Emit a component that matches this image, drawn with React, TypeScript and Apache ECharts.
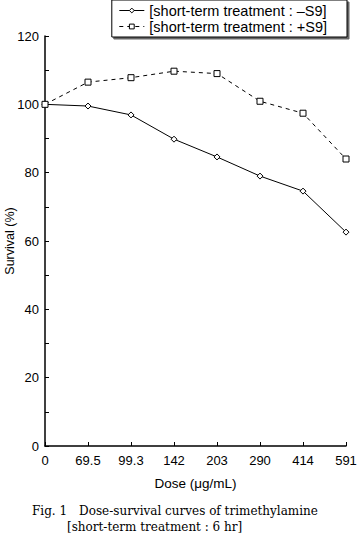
import React, { useEffect, useRef } from "react";
import * as echarts from "echarts";

const doses = ["0", "69.5", "99.3", "142", "203", "290", "414", "591"];
const survivalMinusS9 = [100, 99.5, 96.9, 89.8, 84.6, 79.0, 74.6, 62.6];
const survivalPlusS9 = [100, 106.5, 107.8, 109.7, 109.0, 100.9, 97.4, 84.0];
const seriesNames = ["[short-term treatment : \u2013S9]", "[short-term treatment : +S9]"];
const captionLines = ["Fig. 1\u3000Dose-survival curves of trimethylamine", "[short-term treatment : 6 hr]"];

export default function App() {
  const ref = useRef<HTMLDivElement>(null);
  useEffect(() => {
    if (!ref.current) return;
    const chart = echarts.init(ref.current, null, { renderer: "svg" });
    const font = "'Liberation Sans', Arial, sans-serif";
    chart.setOption({
      animation: false,
      backgroundColor: "#fff",
      textStyle: { fontFamily: font, color: "#000" },
      grid: { left: 45, right: 11, top: 36, bottom: 94, outerBoundsMode: "none", containLabel: false },
      legend: {
        orient: "vertical",
        right: 10,
        top: 0,
        padding: [3, 20, 3, 7],
        itemGap: 1,
        itemWidth: 25,
        itemHeight: 6,
        borderColor: "#000",
        borderWidth: 1,
        borderRadius: 0,
        shadowColor: "rgba(0,0,0,0.6)",
        shadowOffsetX: 2,
        shadowOffsetY: 2,
        backgroundColor: "#fff",
        itemStyle: { borderWidth: 1 },
        lineStyle: { width: 1 },
        textStyle: { fontFamily: font, fontSize: 14.5, color: "#000" },
        data: seriesNames,
      },
      xAxis: {
        type: "category",
        data: doses,
        boundaryGap: false,
        axisLine: { lineStyle: { color: "#000", width: 1.5 } },
        axisTick: { inside: true, length: 4, lineStyle: { color: "#000" } },
        axisLabel: { color: "#000", fontSize: 13, fontFamily: font, margin: 8 },
        name: "Dose (\u03bcg/mL)",
        nameLocation: "middle",
        nameGap: 30,
        nameMoveOverlap: false,
        nameTextStyle: { color: "#000", fontSize: 13.5, fontFamily: font },
      },
      yAxis: {
        type: "value",
        min: 0,
        max: 120,
        interval: 20,
        splitLine: { show: false },
        axisLine: { show: true, lineStyle: { color: "#000", width: 1.5 } },
        axisTick: { show: true, inside: true, length: 4, lineStyle: { color: "#000" } },
        minorTick: { show: true, splitNumber: 2, length: 4, lineStyle: { color: "#000" } },
        axisLabel: { color: "#000", fontSize: 13, fontFamily: font, margin: 6 },
        name: "Survival (%)",
        nameLocation: "middle",
        nameGap: 29,
        nameMoveOverlap: false,
        nameTextStyle: { color: "#000", fontSize: 12.5, fontFamily: font },
      },
      series: [
        {
          name: seriesNames[0],
          type: "line",
          data: survivalMinusS9,
          symbol: "diamond",
          symbolSize: 6,
          lineStyle: { color: "#000", width: 1 },
          itemStyle: { color: "#fff", borderColor: "#000", borderWidth: 1 },
        },
        {
          name: seriesNames[1],
          type: "line",
          data: survivalPlusS9,
          symbol: "rect",
          symbolSize: 6,
          lineStyle: { color: "#000", width: 1, type: [4, 4] },
          itemStyle: { color: "#fff", borderColor: "#000", borderWidth: 1 },
        },
      ],
      graphic: [
        {
          type: "text",
          left: 32,
          top: 505,
          style: { text: captionLines[0], font: "12px 'DejaVu Serif', 'Liberation Serif', serif", fill: "#000" },
        },
        {
          type: "text",
          left: 67,
          top: 521,
          style: { text: captionLines[1], font: "12px 'DejaVu Serif', 'Liberation Serif', serif", fill: "#000" },
        },
      ],
    });
    return () => chart.dispose();
  }, []);
  return <div ref={ref} style={{ width: 357, height: 540, position: "absolute", left: 0, top: 0 }} />;
}
